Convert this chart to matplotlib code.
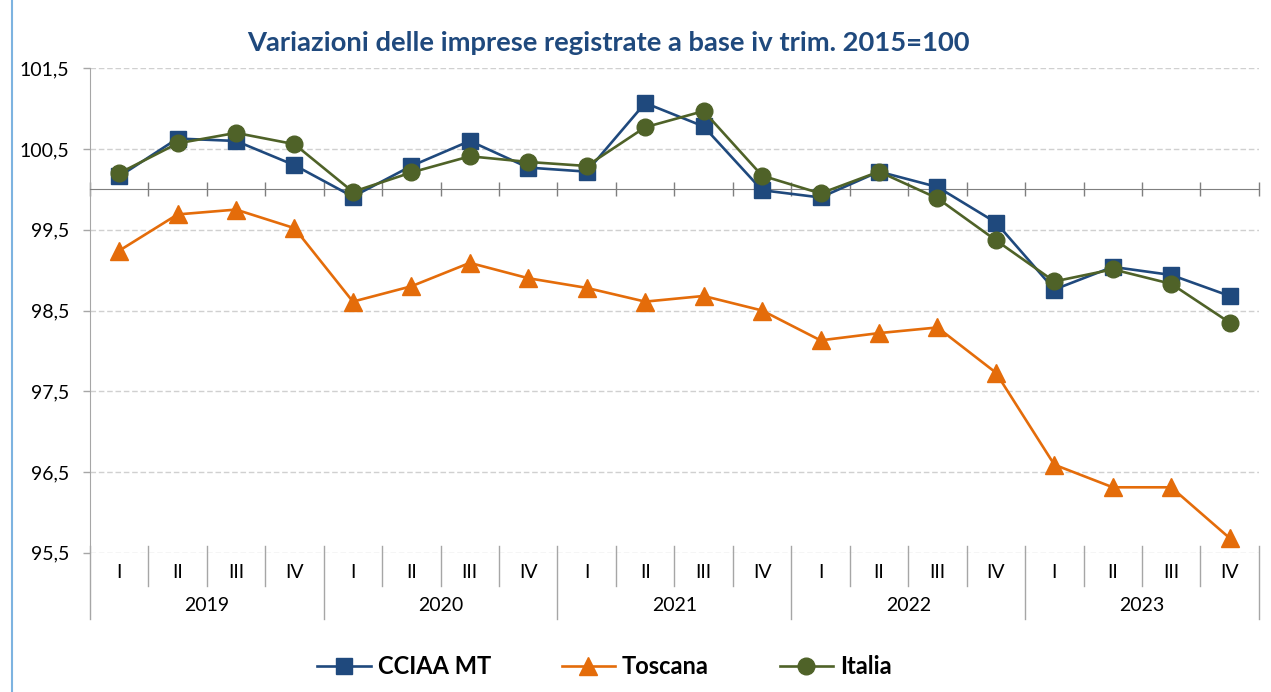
import numpy as np
import matplotlib
matplotlib.use("Agg")
import matplotlib.pyplot as plt
from matplotlib.patches import Rectangle
import matplotlib.transforms as mtransforms

plt.rcParams['font.family'] = ['Lato', 'DejaVu Sans']

quarters = ['I', 'II', 'III', 'IV'] * 5
years = ['2019', '2020', '2021', '2022', '2023']

cciaa_mt = [100.16, 100.63, 100.60, 100.30, 99.91, 100.29, 100.60, 100.27, 100.22, 101.07,
            100.78, 99.99, 99.90, 100.22, 100.03, 99.59, 98.76, 99.04, 98.94, 98.68]
toscana = [99.24, 99.69, 99.75, 99.52, 98.61, 98.80, 99.09, 98.90, 98.78, 98.61,
           98.68, 98.50, 98.13, 98.22, 98.29, 97.73, 96.59, 96.31, 96.31, 95.68]
italia = [100.20, 100.57, 100.70, 100.56, 99.97, 100.21, 100.41, 100.34, 100.29, 100.77,
          100.97, 100.17, 99.95, 100.22, 99.89, 99.37, 98.86, 99.01, 98.83, 98.35]

yticks = [95.5, 96.5, 97.5, 98.5, 99.5, 100.5, 101.5]

blue = '#1F497D'
orange = '#E46C0A'
green = '#4F6228'
grey = '#A6A6A6'

fig = plt.figure(figsize=(12.71, 6.92), dpi=100)
ax = fig.add_axes([0.0707, 0.2013, 0.9198, 0.7000])

x = np.arange(len(quarters))
ax.plot(x, cciaa_mt, color=blue, lw=1.9, marker='s', ms=12, label='CCIAA MT', zorder=3)
ax.plot(x, toscana, color=orange, lw=1.9, marker='^', ms=13, label='Toscana', zorder=3)
ax.plot(x, italia, color=green, lw=1.9, marker='o', ms=12, label='Italia', zorder=4)

ax.set_xlim(-0.5, len(quarters) - 0.5)
ax.set_ylim(95.5, 101.5)

# y axis
ax.set_yticks(yticks)
ax.set_yticklabels([('%.1f' % v).replace('.', ',') for v in yticks])
ax.tick_params(axis='y', direction='out', length=5, width=1, color=grey,
               pad=10, labelsize=14, labelcolor='black')
ax.grid(axis='y', color='#D0D0D0', linestyle=(0, (4, 2)), lw=1)
ax.set_axisbelow(True)

# x axis crosses at 100
for s in ['top', 'right']:
    ax.spines[s].set_visible(False)
ax.spines['left'].set_color(grey)
ax.spines['bottom'].set_position(('data', 100))
ax.spines['bottom'].set_color('#7F7F7F')
ax.set_xticks(np.arange(len(quarters) + 1) - 0.5)
ax.tick_params(axis='x', direction='inout', length=10, width=1, color='#7F7F7F',
               labelbottom=False)

# category labels below the plot
trans = mtransforms.blended_transform_factory(ax.transData, ax.transAxes)
for i, q in enumerate(quarters):
    ax.text(i, -0.041, q, transform=trans, ha='center', va='center',
            fontsize=14, color='black')
for j, yr in enumerate(years):
    ax.text(j * 4 + 1.5, -0.110, yr, transform=trans, ha='center', va='center',
            fontsize=14, color='black')
for k in range(len(quarters) + 1):
    low = -0.1376 if k % 4 == 0 else -0.0688
    ax.plot([k - 0.5, k - 0.5], [0.0138, low], transform=trans, color=grey,
            lw=1, clip_on=False)

fig.text(0.479, 1 - 43 / 692, 'Variazioni delle imprese registrate a base iv trim. 2015=100',
         ha='center', va='center', fontsize=19.7, fontweight='bold', color=blue)

ax.legend(loc='center', bbox_to_anchor=(0.4756, 1 - 667 / 692), bbox_transform=fig.transFigure,
          ncol=3, frameon=False, prop={'weight': 'bold', 'size': 17},
          handlelength=2.25, handletextpad=0.3, columnspacing=3.0)

fig.add_artist(Rectangle((12 / 1271, -0.1), 1.2, 1.1 + 1 - 12 / 692, transform=fig.transFigure,
                         fill=False, edgecolor='#7DB3E0', lw=1.5))

fig.savefig('out.png', dpi=100)
